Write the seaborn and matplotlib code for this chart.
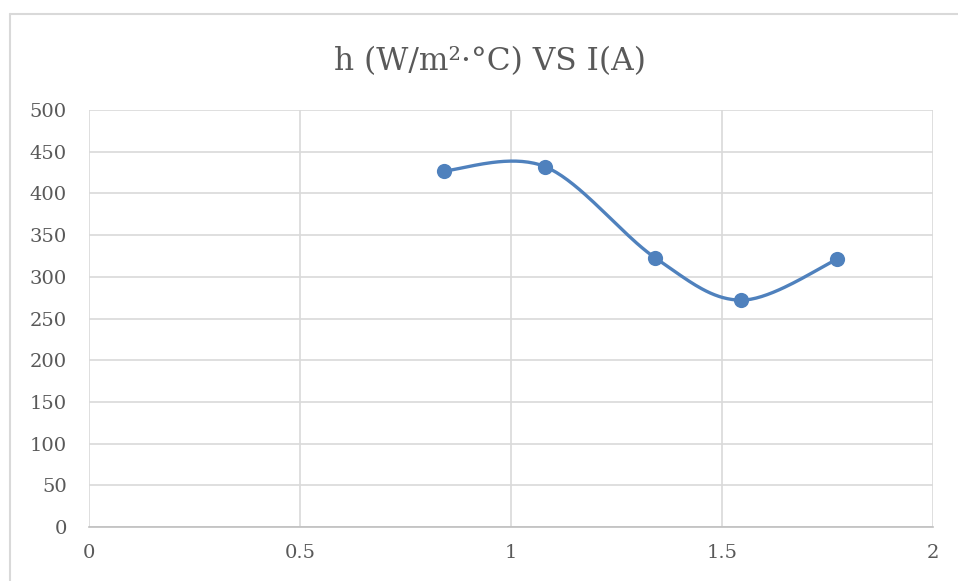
import numpy as np
import pandas as pd
import matplotlib
matplotlib.use("Agg")
import matplotlib.pyplot as plt
import seaborn as sns
from matplotlib.lines import Line2D

# Data
current_A = [0.841, 1.081, 1.341, 1.545, 1.773]
h_values = [427, 432, 323, 272, 321]
x_ticks = [0, 0.5, 1, 1.5, 2]
y_ticks = [0, 50, 100, 150, 200, 250, 300, 350, 400, 450, 500]
title = "h (W/m²·°C) VS I(A)"

sns.set_theme(style="white")
plt.rcParams['font.family'] = ['DejaVu Serif', 'DejaVu Sans']

BLUE = "#4F81BD"
GRAY_TXT = "#595959"
GRID = "#D9D9D9"

fig = plt.figure(figsize=(9.58, 5.81), dpi=100)
fig.patch.set_facecolor("white")
# outer chart border (left/top visible)
bx, by = 9.5/958, 1 - 13.5/581
fig.add_artist(Line2D([bx, bx], [-0.05, by], transform=fig.transFigure, color="#D9D9D9", linewidth=1.5))
fig.add_artist(Line2D([bx, 1.05], [by, by], transform=fig.transFigure, color="#D9D9D9", linewidth=1.5))
ax = fig.add_axes([89/958, 1 - 527/581, (933 - 89)/958, (527 - 110)/581])


def excel_smooth(xs, ys, n=40):
    pts = np.column_stack([xs, ys]).astype(float)
    out = []
    m = len(pts)
    for i in range(m - 1):
        p0 = pts[i - 1] if i > 0 else pts[i]
        p1 = pts[i]
        p2 = pts[i + 1]
        p3 = pts[i + 2] if i + 2 < m else pts[i + 1]
        c1 = p1 + (p2 - p0) / 6.0
        c2 = p2 - (p3 - p1) / 6.0
        t = np.linspace(0, 1, n)[:, None]
        seg = ((1 - t) ** 3) * p1 + 3 * ((1 - t) ** 2) * t * c1 + 3 * (1 - t) * t ** 2 * c2 + t ** 3 * p2
        out.append(seg if i == 0 else seg[1:])
    return np.vstack(out)


curve = excel_smooth(current_A, h_values)
curve_df = pd.DataFrame({"x": curve[:, 0], "y": curve[:, 1]})
sns.lineplot(data=curve_df, x="x", y="y", sort=False, ax=ax, color=BLUE, linewidth=2.4, zorder=3)
pts_df = pd.DataFrame({"I": current_A, "h": h_values})
sns.scatterplot(data=pts_df, x="I", y="h", ax=ax, color=BLUE, s=120, edgecolor=BLUE, linewidth=0, zorder=4)

ax.set_xlim(0, 2)
ax.set_ylim(0, 500)
ax.set_xticks(x_ticks)
ax.set_xticklabels([f"{v:g}" for v in x_ticks])
ax.set_yticks(y_ticks)
ax.set_yticklabels([str(v) for v in y_ticks])
ax.grid(True, color=GRID, linewidth=1.2)
ax.set_axisbelow(True)
for s in ["top", "right", "left"]:
    ax.spines[s].set_visible(False)
ax.spines["bottom"].set_color("#BFBFBF")
ax.spines["bottom"].set_linewidth(1.2)
ax.tick_params(axis="both", length=0, labelsize=14, colors=GRAY_TXT)
ax.tick_params(axis="y", pad=16)
ax.tick_params(axis="x", pad=12)
ax.set_xlabel("")
ax.set_ylabel("")

fig.text(490/958, 1 - 62/581, title, ha="center", va="center", fontsize=22.5, color=GRAY_TXT)

fig.savefig("out.png", dpi=100, facecolor="white")
